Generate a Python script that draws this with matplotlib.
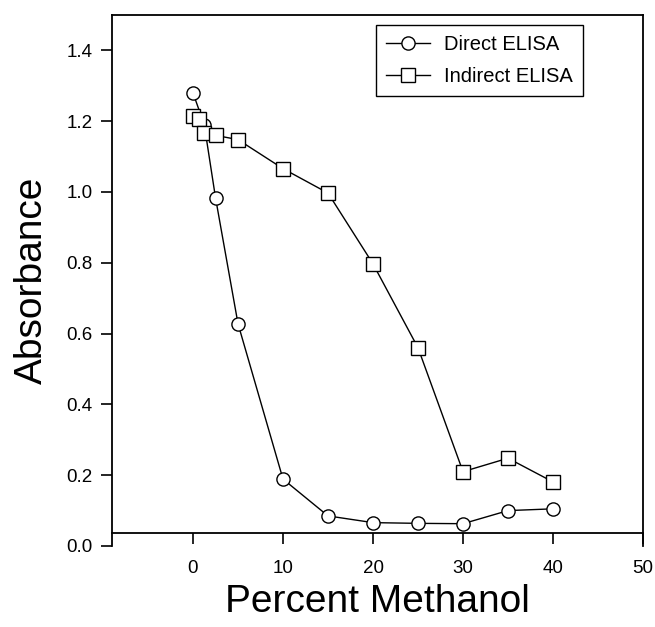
import matplotlib
matplotlib.use("Agg")
import matplotlib.pyplot as plt

plt.rcParams["font.family"] = ["Liberation Sans", "DejaVu Sans"]

# data
direct_x = [0, 1.25, 2.5, 5, 10, 15, 20, 25, 30, 35, 40]
direct_y = [1.28, 1.19, 0.984, 0.628, 0.189, 0.085, 0.066, 0.064, 0.063, 0.100, 0.105]

indirect_x = [0, 0.625, 1.25, 2.5, 5, 10, 15, 20, 25, 30, 35, 40]
indirect_y = [1.214, 1.205, 1.167, 1.160, 1.148, 1.066, 0.997, 0.797, 0.560, 0.210, 0.248, 0.181]

xticks = [0, 10, 20, 30, 40, 50]
yticks = [0.0, 0.2, 0.4, 0.6, 0.8, 1.0, 1.2, 1.4]

fig = plt.figure(figsize=(6.55, 6.27), dpi=100)
ax = fig.add_axes([112 / 655, 81 / 627, 531 / 655, 531 / 627])

mk = dict(color="black", lw=1.0, markersize=9.5, markerfacecolor="white",
          markeredgecolor="black", markeredgewidth=1.0)
ax.plot(direct_x, direct_y, marker="o", label="Direct ELISA", **mk)
ax.plot(indirect_x, indirect_y, marker="s", label="Indirect ELISA", **mk)

ax.set_xlim(-9, 50)
ax.set_ylim(0, 1.5)
ax.set_xticks(xticks)
ax.set_yticks(yticks)
ax.set_yticklabels([f"{v:.1f}" for v in yticks])

# x axis line sits a little above zero, as in the original
ax.spines["bottom"].set_position(("data", 0.036))
for s in ax.spines.values():
    s.set_linewidth(1.3)
ax.tick_params(direction="out", length=8, width=1.2, labelsize=13.5, pad=6)
ax.tick_params(axis="x", pad=11)

ax.set_xlabel("Percent Methanol", fontsize=28, labelpad=5)
ax.set_ylabel("Absorbance", fontsize=28, labelpad=12)

leg = ax.legend(loc="upper right", bbox_to_anchor=(0.887, 0.981), fontsize=14.5,
                fancybox=False, edgecolor="black", framealpha=1,
                handlelength=2.2, handletextpad=0.7, borderpad=0.5,
                labelspacing=0.65, borderaxespad=0)
leg.get_frame().set_linewidth(1.0)

fig.savefig("out.png", dpi=100)
